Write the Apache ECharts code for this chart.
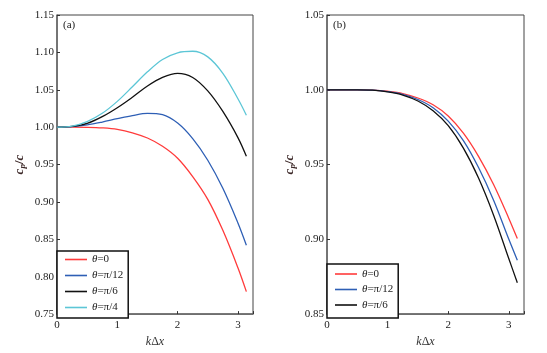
<!DOCTYPE html>
<html>
<head>
<meta charset="utf-8">
<script src="https://cdn.jsdelivr.net/npm/echarts@6/dist/echarts.min.js"></script>
<style>
html, body { margin: 0; padding: 0; background: #fff; }
#chart { width: 547px; height: 353px; }
</style>
</head>
<body>
<div id="chart"></div>
<script>
// panel (a), values
var kdxA = [0, 0.25, 0.5, 0.75, 1.0, 1.25, 1.5, 1.75, 2.0, 2.25, 2.5, 2.75, 3.0, 3.14];
var theta0A = [1.0, 1.0, 0.9998, 0.999, 0.997, 0.9925, 0.9855, 0.9745, 0.9585, 0.934, 0.9035, 0.862, 0.812, 0.780];
var theta12A = [1.0, 1.0008, 1.003, 1.0068, 1.0113, 1.0155, 1.0185, 1.0168, 1.0055, 0.9847, 0.9558, 0.9182, 0.8718, 0.842];
var theta6A = [1.0, 1.001, 1.005, 1.014, 1.026, 1.040, 1.055, 1.0665, 1.072, 1.0665, 1.0485, 1.021, 0.986, 0.961];
var theta4A = [1.0, 1.0015, 1.0075, 1.0185, 1.0345, 1.054, 1.074, 1.0905, 1.0995, 1.1015, 1.094, 1.072, 1.038, 1.016];

// panel (b)
var kdxB = [0, 0.5, 0.75, 1.0, 1.25, 1.5, 1.75, 2.0, 2.25, 2.5, 2.75, 3.0, 3.14];
var theta0B = [1.0, 1.0, 0.9998, 0.999, 0.9975, 0.9945, 0.990, 0.9825, 0.971, 0.9555, 0.9365, 0.914, 0.9005];
var theta12B = [1.0, 1.0, 0.9998, 0.9988, 0.997, 0.9935, 0.988, 0.979, 0.966, 0.948, 0.926, 0.900, 0.886];
var theta6B = [1.0, 1.0, 0.9997, 0.9986, 0.9965, 0.9925, 0.986, 0.976, 0.961, 0.941, 0.916, 0.887, 0.871];

var names = ['θ=0', 'θ=π/12', 'θ=π/6', 'θ=π/4'];
var colors = ['#ff3b3b', '#2e5fb5', '#111111', '#5cc6d6'];

function pairs(xs, ys) {
    var out = [];
    for (var i = 0; i < xs.length; i++) {
        out.push([xs[i], ys[i]]);
    }
    return out;
}

var serif = 'Liberation Serif';

function xAxisOf(idx) {
    return {
        gridIndex: idx,
        type: 'value',
        min: 0, max: 3.25, interval: 1,
        name: '{i|k}{n|Δ}{i|x}',
        nameLocation: 'middle',
        nameGap: 17,
        nameTextStyle: {
            rich: {
                i: { fontFamily: serif, fontStyle: 'italic', fontSize: 12, color: '#333' },
                n: { fontFamily: serif, fontSize: 12, color: '#333' }
            }
        },
        axisLine: { show: true, lineStyle: { color: '#666', width: 1.5 } },
        axisTick: { inside: true, length: 3, lineStyle: { color: '#333' } },
        splitLine: { show: false },
        axisLabel: {
            margin: 6,
            fontFamily: serif, fontSize: 11, color: '#222',
            formatter: function (v) { return Number.isInteger(v) ? String(v) : ''; }
        }
    };
}

function yAxisOf(idx, min, max) {
    return {
        gridIndex: idx,
        type: 'value',
        min: min, max: max, interval: 0.05,
        name: '{i|c}{s|p}{n|/}{i|c}',
        nameLocation: 'middle',
        nameGap: 30,
        nameTextStyle: {
            rich: {
                i: { fontFamily: serif, fontStyle: 'italic', fontWeight: 'bold', fontSize: 13, color: '#3a2626' },
                s: { fontFamily: serif, fontStyle: 'italic', fontWeight: 'bold', fontSize: 9, color: '#3a2626', padding: [6, 0, 0, 0] },
                n: { fontFamily: serif, fontWeight: 'bold', fontSize: 13, color: '#3a2626' }
            }
        },
        axisLine: { show: true, lineStyle: { color: '#666', width: 1.5 } },
        axisTick: { inside: true, length: 3, lineStyle: { color: '#333' } },
        splitLine: { show: false },
        axisLabel: {
            margin: 3,
            fontFamily: serif, fontSize: 11, color: '#222',
            formatter: function (v) { return v.toFixed(2); }
        }
    };
}

function lineSeries(name, color, xi, xs, ys) {
    return {
        name: name,
        type: 'line',
        xAxisIndex: xi, yAxisIndex: xi,
        data: pairs(xs, ys),
        smooth: 0.35,
        symbol: 'none',
        silent: true,
        lineStyle: { color: color, width: 1.3 },
        itemStyle: { color: color }
    };
}

var legendText = {
    fontFamily: serif, fontSize: 11, color: '#222',
    rich: {
        i: { fontFamily: serif, fontStyle: 'italic', fontSize: 11, color: '#222' },
        n: { fontFamily: serif, fontSize: 11, color: '#222' }
    }
};
function legendFormat(name) {
    return '{i|θ}{n|' + name.slice(1) + '}';
}

var chart = echarts.init(document.getElementById('chart'));
chart.setOption({
    animation: false,
    backgroundColor: '#fff',
    grid: [
        { left: 57, top: 15, width: 196, height: 302, show: true, borderColor: '#444', borderWidth: 1 },
        { left: 327, top: 15, width: 197, height: 302, show: true, borderColor: '#444', borderWidth: 1 }
    ],
    xAxis: [xAxisOf(0), xAxisOf(1)],
    yAxis: [yAxisOf(0, 0.75, 1.15), yAxisOf(1, 0.85, 1.05)],
    legend: [
        {
            data: names, orient: 'vertical', left: 57, top: 251,
            icon: 'rect', itemWidth: 22, itemHeight: 1.6, itemGap: 5,
            padding: [3, 5, 5, 8],
            backgroundColor: '#fff', borderColor: '#111', borderWidth: 1.5,
            selectedMode: false,
            textStyle: legendText, formatter: legendFormat
        },
        {
            data: names.slice(0, 3), orient: 'vertical', left: 327, top: 264,
            icon: 'rect', itemWidth: 22, itemHeight: 1.6, itemGap: 4.5,
            padding: [4.5, 5, 7.5, 8],
            backgroundColor: '#fff', borderColor: '#111', borderWidth: 1.5,
            selectedMode: false,
            textStyle: legendText, formatter: legendFormat
        }
    ],
    graphic: [
        { type: 'text', left: 63, top: 20, style: { text: '(a)', fontFamily: serif, fontSize: 11, fill: '#222' } },
        { type: 'text', left: 333, top: 20, style: { text: '(b)', fontFamily: serif, fontSize: 11, fill: '#222' } }
    ],
    series: [
        lineSeries(names[0], colors[0], 0, kdxA, theta0A),
        lineSeries(names[1], colors[1], 0, kdxA, theta12A),
        lineSeries(names[2], colors[2], 0, kdxA, theta6A),
        lineSeries(names[3], colors[3], 0, kdxA, theta4A),
        lineSeries(names[0], colors[0], 1, kdxB, theta0B),
        lineSeries(names[1], colors[1], 1, kdxB, theta12B),
        lineSeries(names[2], colors[2], 1, kdxB, theta6B)
    ]
});
</script>
</body>
</html>
